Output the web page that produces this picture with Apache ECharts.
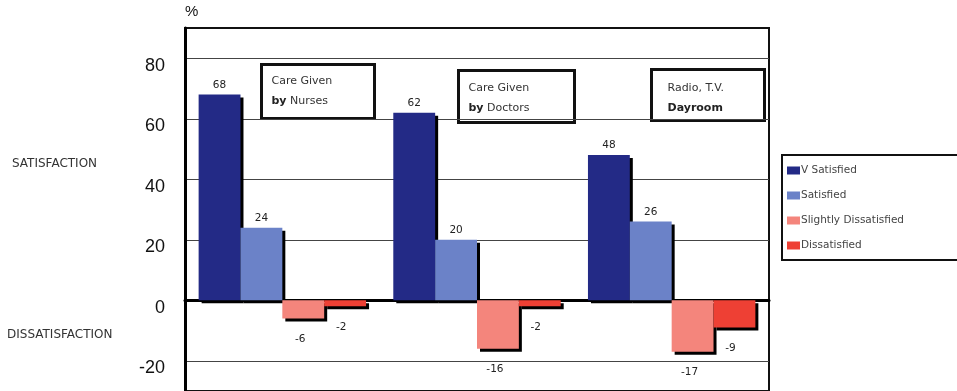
<!DOCTYPE html>
<html>
<head>
<meta charset="utf-8">
<script src="https://cdn.jsdelivr.net/npm/echarts@6/dist/echarts.min.js"></script>
<style>html,body{margin:0;padding:0;background:#fff;}#c{width:957px;height:391px;}</style>
</head>
<body>
<div id="c"></div>
<script>
var categories = ['Care Given by Nurses', 'Care Given by Doctors', 'Radio, T.V. Dayroom'];
var vSatisfied = [68, 62, 48];
var satisfied = [24, 20, 26];
var slightlyDissatisfied = [-6, -16, -17];
var dissatisfied = [-2, -2, -9];
var seriesNames = ['V Satisfied', 'Satisfied', 'Slightly Dissatisfied', 'Dissatisfied'];
var yTickLabels = [-20, 0, 20, 40, 60, 80];

var chart = echarts.init(document.getElementById('c'));
var font = '"Liberation Sans", Arial, Helvetica, sans-serif';
var wide = '"DejaVu Sans", Verdana, sans-serif';
var shadow = {shadowColor: '#000', shadowOffsetX: 3, shadowOffsetY: 3, shadowBlur: 0};

function boxGroup(x, y, w, h, tx, line1, line2a, line2b, y1, y2) {
  return {
    type: 'group', left: x, top: y, z: 100,
    children: [
      {type: 'rect', shape: {x: 0, y: 0, width: w, height: h},
       style: {fill: '#fff', stroke: '#111', lineWidth: 3}},
      {type: 'text', x: tx, y: y1,
       style: {text: line1, font: '11px ' + wide, fill: '#333', textVerticalAlign: 'middle'}},
      {type: 'text', x: tx, y: y2,
       style: {text: (line2a ? '{b|' + line2a + '} ' : '') + line2b, font: '11px ' + wide, fill: '#333', textVerticalAlign: 'middle',
               rich: {b: {fontWeight: 'bold', fontSize: 11, fontFamily: wide, fill: '#222'}}}}
    ]
  };
}

var option = {
  animation: false,
  textStyle: {fontFamily: font},
  grid: {left: 185, right: 188, top: 28, bottom: -2.5, show: true, borderColor: '#111', borderWidth: 2, backgroundColor: '#fff'},
  legend: {
    orient: 'vertical', left: 782, top: 155,
    data: seriesNames,
    icon: 'rect', itemWidth: 13, itemHeight: 8, itemGap: 14,
    padding: [10, 80, 9, 5],
    borderColor: '#111', borderWidth: 2, backgroundColor: '#fff',
    textStyle: {fontSize: 10.5, color: '#444', fontFamily: wide, padding: [0, 0, 0, -4]}
  },
  xAxis: {
    type: 'category', data: categories,
    axisLine: {onZero: true, lineStyle: {color: '#000', width: 3}},
    axisTick: {show: false}, axisLabel: {show: false}, splitLine: {show: false}
  },
  yAxis: {
    type: 'value', min: -30, max: 90, interval: 10,
    axisLine: {show: true, lineStyle: {color: '#000', width: 3}},
    axisTick: {show: false},
    axisLabel: {
      margin: 20, fontSize: 18, color: '#111', fontFamily: font, verticalAlign: 'top', lineHeight: 15,
      formatter: function (v) { return yTickLabels.indexOf(v) >= 0 ? String(v) : ''; }
    },
    splitLine: {show: true, showMinLine: true, showMaxLine: true, lineStyle: {color: ['rgba(0,0,0,0)', '#444'], width: 1}}
  },
  graphic: [
    {type: 'text', left: 185, top: 4, style: {text: '%', font: '15px ' + font, fill: '#111'}},
    {type: 'text', left: 12, top: 158, style: {text: 'SATISFACTION', font: '12px ' + wide, fill: '#333'}},
    {type: 'text', left: 7, top: 329, style: {text: 'DISSATISFACTION', font: '12px ' + wide, fill: '#333'}},
    boxGroup(260, 63, 113, 54, 10, 'Care Given', 'by', 'Nurses', 17, 37),
    boxGroup(457, 69, 116, 52, 10, 'Care Given', 'by', 'Doctors', 18, 38),
    {
      type: 'group', left: 650, top: 68, z: 100,
      children: [
        {type: 'rect', shape: {x: 0, y: 0, width: 113, height: 51}, style: {fill: '#fff', stroke: '#111', lineWidth: 3}},
        {type: 'text', x: 16, y: 19, style: {text: 'Radio, T.V.', font: '11px ' + wide, fill: '#333', textVerticalAlign: 'middle'}},
        {type: 'text', x: 16, y: 39, style: {text: 'Dayroom', font: 'bold 11px ' + wide, fill: '#222', textVerticalAlign: 'middle'}}
      ]
    }
  ],
  series: [
    {name: seriesNames[0], type: 'bar', data: vSatisfied, barGap: '0%', barCategoryGap: '14%',
     itemStyle: Object.assign({color: '#232a86'}, shadow),
     label: {show: true, position: 'top', distance: 4, fontSize: 10.5, color: '#222', fontFamily: wide}},
    {name: seriesNames[1], type: 'bar', data: satisfied,
     itemStyle: Object.assign({color: '#6b82c8'}, shadow),
     label: {show: true, position: 'top', distance: 4, fontSize: 10.5, color: '#222', fontFamily: wide}},
    {name: seriesNames[2], type: 'bar', data: slightlyDissatisfied,
     itemStyle: Object.assign({color: '#f4857c'}, shadow),
     label: {show: true, position: 'bottom', distance: 15, offset: [-3, 0], fontSize: 10.5, color: '#222', fontFamily: wide}},
    {name: seriesNames[3], type: 'bar', data: dissatisfied,
     itemStyle: Object.assign({color: '#ee4034'}, shadow),
     label: {show: true, position: 'bottom', distance: 15, offset: [-4, 0], fontSize: 10.5, color: '#222', fontFamily: wide}}
  ]
};
chart.setOption(option);
</script>
</body>
</html>
